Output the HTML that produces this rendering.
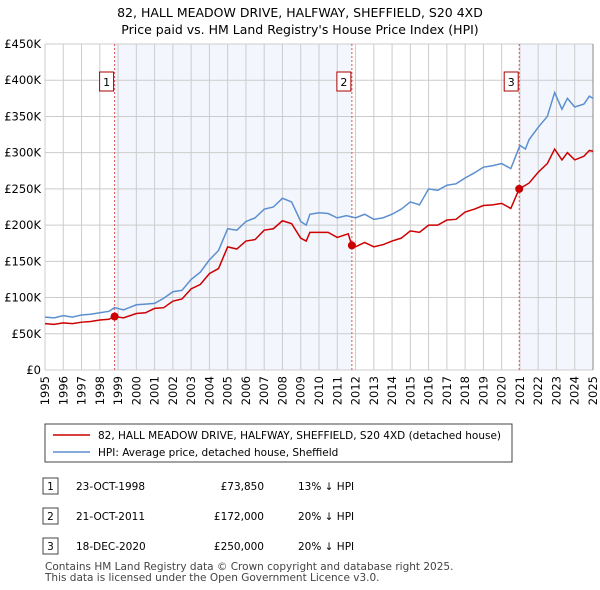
<!DOCTYPE html>
<html><head><meta charset="utf-8"><style>
body{margin:0;background:#fff;font-family:"DejaVu Sans","Liberation Sans",sans-serif;color:#222}
#wrap{position:relative;width:600px;height:590px;overflow:hidden}
svg text{font-family:"DejaVu Sans","Liberation Sans",sans-serif}
</style></head><body><div id="wrap">
<svg id="svg" width="600" height="590">
<text x="300" y="17" text-anchor="middle" font-size="12.5">82, HALL MEADOW DRIVE, HALFWAY, SHEFFIELD, S20 4XD</text>
<text x="300" y="34" text-anchor="middle" font-size="12.5">Price paid vs. HM Land Registry's House Price Index (HPI)</text>
<g id="plot"></g>
<rect x="45" y="424" width="467" height="38" fill="#fff" stroke="#444"/>
<line x1="53" y1="435" x2="90" y2="435" stroke="#cc0000" stroke-width="1.5"/>
<text x="98" y="439" font-size="10.5">82, HALL MEADOW DRIVE, HALFWAY, SHEFFIELD, S20 4XD (detached house)</text>
<line x1="53" y1="452" x2="90" y2="452" stroke="#5b8fd0" stroke-width="1.5"/>
<text x="98" y="456" font-size="10.5">HPI: Average price, detached house, Sheffield</text>
<g font-size="10.5">
<rect x="43" y="478" width="15" height="16" fill="#fff" stroke="#444"/><text x="50.5" y="490" text-anchor="middle">1</text>
<text x="76" y="490">23-OCT-1998</text><text x="264" y="490" text-anchor="end">£73,850</text><text x="298" y="490">13% ↓ HPI</text>
<rect x="43" y="508" width="15" height="16" fill="#fff" stroke="#444"/><text x="50.5" y="520" text-anchor="middle">2</text>
<text x="76" y="520">21-OCT-2011</text><text x="264" y="520" text-anchor="end">£172,000</text><text x="298" y="520">20% ↓ HPI</text>
<rect x="43" y="538" width="15" height="16" fill="#fff" stroke="#444"/><text x="50.5" y="550" text-anchor="middle">3</text>
<text x="76" y="550">18-DEC-2020</text><text x="264" y="550" text-anchor="end">£250,000</text><text x="298" y="550">20% ↓ HPI</text>
</g>
<text x="45" y="570" font-size="10.5" fill="#444">Contains HM Land Registry data © Crown copyright and database right 2025.</text>
<text x="45" y="581" font-size="10.5" fill="#444">This data is licensed under the Open Government Licence v3.0.</text>
</svg></div>
<script>
const yearTicks=[1995,1996,1997,1998,1999,2000,2001,2002,2003,2004,2005,2006,2007,2008,2009,2010,2011,2012,2013,2014,2015,2016,2017,2018,2019,2020,2021,2022,2023,2024,2025];
const valueTicks=[0,50000,100000,150000,200000,250000,300000,350000,400000,450000];
const valueTickLabels=["£0","£50K","£100K","£150K","£200K","£250K","£300K","£350K","£400K","£450K"];
const hpiYears=[1995,1995.5,1996,1996.5,1997,1997.5,1998,1998.5,1998.8,1999.3,2000,2000.5,2001,2001.5,2002,2002.5,2003,2003.5,2004,2004.5,2005,2005.5,2006,2006.5,2007,2007.5,2008,2008.5,2009,2009.3,2009.5,2010,2010.5,2011,2011.5,2012,2012.5,2013,2013.5,2014,2014.5,2015,2015.5,2016,2016.5,2017,2017.5,2018,2018.5,2019,2019.5,2020,2020.5,2021,2021.3,2021.5,2022,2022.5,2022.9,2023.3,2023.6,2024,2024.5,2024.8,2025];
const hpiValues=[73,72,75,73,76,77,79,81,86,83,90,91,92,99,108,110,125,135,152,165,195,193,205,210,222,225,237,232,205,200,215,217,216,210,213,210,215,208,210,215,222,232,228,250,248,255,257,265,272,280,282,285,278,310,305,318,335,350,383,360,375,363,367,378,375];
const priceYears=[1995,1995.5,1996,1996.5,1997,1997.5,1998,1998.5,1998.8,1999.3,2000,2000.5,2001,2001.5,2002,2002.5,2003,2003.5,2004,2004.5,2005,2005.5,2006,2006.5,2007,2007.5,2008,2008.5,2009,2009.3,2009.5,2010,2010.5,2011,2011.6,2011.8,2012,2012.5,2013,2013.5,2014,2014.5,2015,2015.5,2016,2016.5,2017,2017.5,2018,2018.5,2019,2019.5,2020,2020.5,2020.96,2021.3,2021.5,2022,2022.5,2022.9,2023.3,2023.6,2024,2024.5,2024.8,2025];
const priceValues=[64,63,65,64,66,67,69,70,73.85,72,78,79,85,86,95,98,112,118,133,140,170,167,178,180,193,195,206,202,182,178,190,190,190,183,188,172,170,176,170,173,178,182,192,190,200,200,207,208,218,222,227,228,230,223,250,255,258,273,285,305,290,300,290,295,303,302];
const saleYears=[1998.81,2011.8,2020.96];
const saleValues=[73.85,172,250];
const saleLabels=["1","2","3"];
const X0=45,X1=593,Y0=370,Y1=44;
const xs=y=>X0+(y-1995)/(2025-1995)*(X1-X0);
const ys=v=>Y0-v/450000*(Y0-Y1);
const NS="http://www.w3.org/2000/svg";
const plot=document.getElementById('plot');
function mk(t,a,p){const e=document.createElementNS(NS,t);for(const k in a)e.setAttribute(k,a[k]);(p||plot).appendChild(e);return e;}
let r=mk('rect',{x:X0,y:Y1,width:X1-X0,height:Y0-Y1,fill:'#fff'});


r=mk('rect',{x:xs(saleYears[0]),y:Y1,width:xs(saleYears[1])-xs(saleYears[0]),height:Y0-Y1,fill:'#f3f6fd'});


r=mk('rect',{x:xs(saleYears[2]),y:Y1,width:X1-xs(saleYears[2]),height:Y0-Y1,fill:'#f3f6fd'});


yearTicks.forEach(yr=>{
 let l=mk('line',{x1:xs(yr),x2:xs(yr),y1:Y1,y2:Y0,stroke:'#ccc'});
 
 
 let t=mk('text',{x:0,y:0,'font-size':11.5,'text-anchor':'end',transform:`translate(${xs(yr)+4},${Y0+6}) rotate(-90)`});
 t.textContent=yr;
 
 
});
valueTicks.forEach((v,i)=>{
 let l=mk('line',{x1:X0,x2:X1,y1:ys(v),y2:ys(v),stroke:'#ccc'});
 
 
 let t=mk('text',{x:X0-4,y:ys(v)+4,'font-size':11.5,'text-anchor':'end'});
 t.textContent=valueTickLabels[i];
 
 
});
let ax=mk('line',{x1:X1,x2:X1,y1:Y1,y2:Y0,stroke:'#888'});


saleYears.forEach((s,i)=>{
 let l=mk('line',{x1:xs(s),x2:xs(s),y1:Y1,y2:Y0,stroke:'#e05555','stroke-dasharray':'2,2'});
 
 
 let b=mk('rect',{x:xs(s)-15,y:72,width:14,height:19,fill:'#fff',stroke:'#aa0000'});
 
 
 let t=mk('text',{x:xs(s)-8,y:86,'font-size':11,'text-anchor':'middle'});
 t.textContent=saleLabels[i];
 
 
});
let p=mk('polyline',{points:hpiYears.map((y,i)=>xs(y)+','+ys(hpiValues[i]*1000)).join(' '),fill:'none',stroke:'#5b8fd0','stroke-width':1.5});


p=mk('polyline',{points:priceYears.map((y,i)=>xs(y)+','+ys(priceValues[i]*1000)).join(' '),fill:'none',stroke:'#cc0000','stroke-width':1.5});


saleYears.forEach((s,i)=>{
 let c=mk('circle',{cx:xs(s),cy:ys(saleValues[i]*1000),r:4,fill:'#cc0000'});
 
 
});
</script></body></html>
